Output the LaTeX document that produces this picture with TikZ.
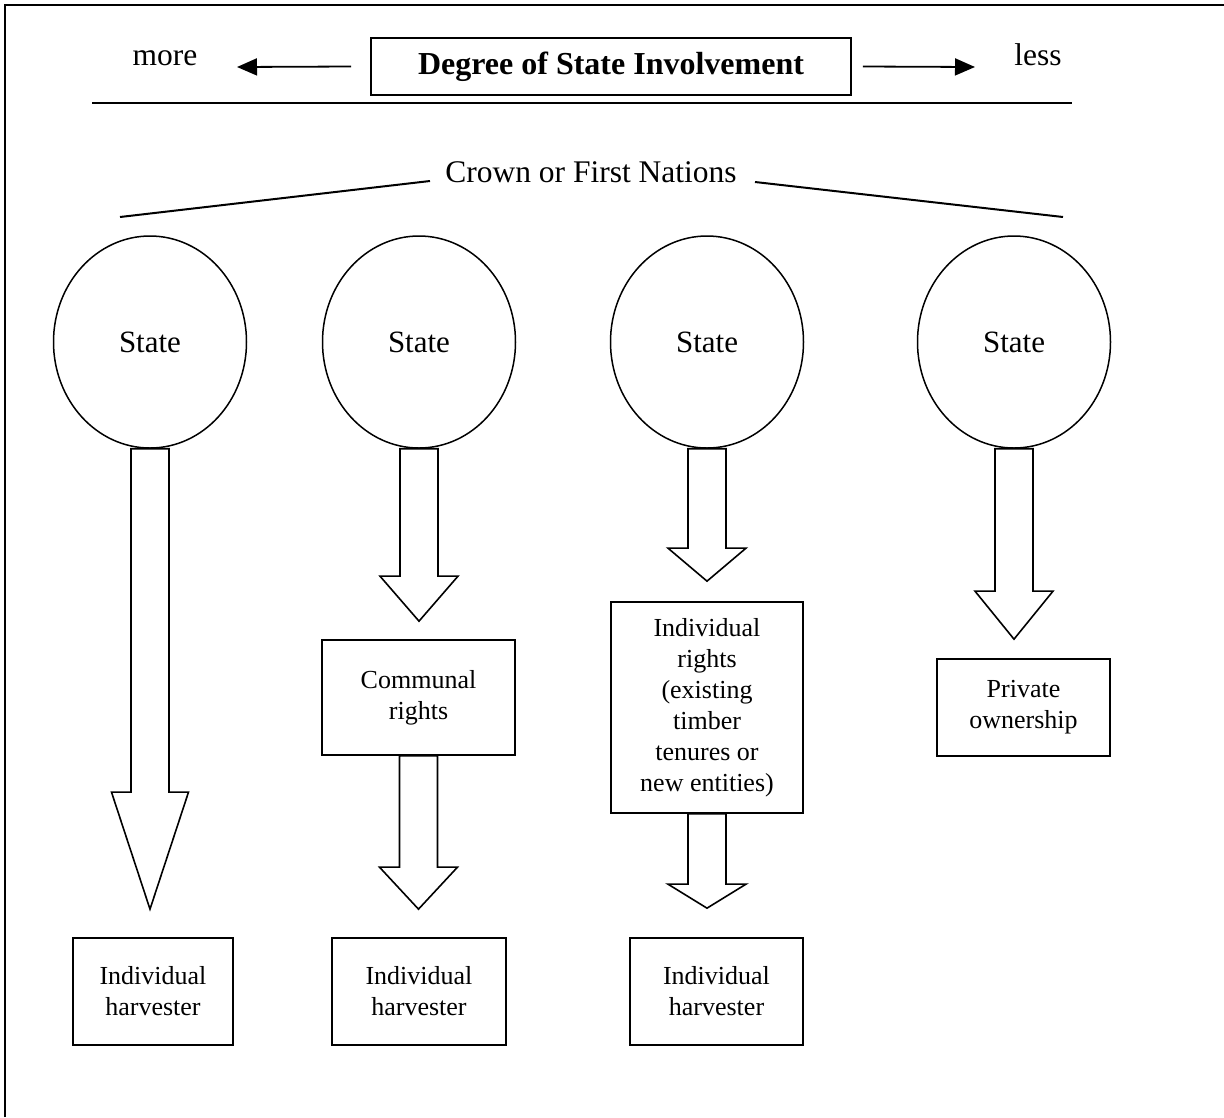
\documentclass[tikz,border=0pt]{standalone}
\usepackage{fontspec}
\setmainfont{Liberation Serif}
\usetikzlibrary{shapes.geometric,arrows.meta,calc}
\newcommand\BlkArr[5]{\draw[blkline] let \p1=#1, \p2=#2 in
  (\x1-#4,\y1) -- (\x1-#4,\y2+#3) -- (\x1-#5,\y2+#3) -- (\x1,\y2) --
  (\x1+#5,\y2+#3) -- (\x1+#4,\y2+#3) -- (\x1+#4,\y1) -- cycle;}
\begin{document}
\begin{tikzpicture}[x=1pt,y=-1pt,line join=miter,
  rbox/.style={draw,line width=1.7pt,rectangle,inner sep=0pt,align=center,
    font=\fontsize{26}{31}\selectfont},
  statec/.style={draw,line width=1.5pt,ellipse,minimum width=193pt,
    minimum height=212pt,inner sep=0pt,font=\fontsize{31}{36}\selectfont},
  blkline/.style={draw,line width=1.6pt},
  ruleline/.style={line width=2pt},
  toparrow/.style={line width=1.8pt,-{Triangle[length=20pt,width=17pt]}},
  bigtext/.style={font=\fontsize{31.5}{38}\selectfont}]
\useasboundingbox (0,0) rectangle (1224,1117);
% frame
\draw[ruleline] (5,1117) -- (5,5) -- (1224,5);
% header
\node[rbox,minimum width=480pt,minimum height=57pt,
  font=\fontsize{32}{38}\selectfont\bfseries] (t) at (611,66.5) {Degree of State Involvement};
\node[bigtext,anchor=base] (more) at (165,65) {more};
\node[bigtext,anchor=base] (less) at (1038,65) {less};
\coordinate (lt) at (237,67);
\coordinate (rt) at (975,67);
\draw[toparrow] ([xshift=-19pt]t.west) -- (lt);
\draw[toparrow] ([xshift=11pt]t.east) -- (rt);
\coordinate (ra) at (92,103);
\coordinate (rb) at (1072,103);
\draw[ruleline] (ra) -- (rb);
% crown
\node[bigtext] (cr) at (591,172) {Crown or First Nations};
\coordinate (cl1) at (430,181);
\coordinate (cl2) at (120,217);
\coordinate (cr1) at (755,182);
\coordinate (cr2) at (1063,217);
\draw[ruleline] (cl1) -- (cl2);
\draw[ruleline] (cr1) -- (cr2);
% states
\node[statec] (s1) at (150,342) {State};
\node[statec] (s2) at (419,342) {State};
\node[statec] (s3) at (707,342) {State};
\node[statec] (s4) at (1014,342) {State};
% boxes
\node[rbox,minimum width=193pt,minimum height=115pt] (c2) at (418.5,697.5) {Communal\\rights};
\node[rbox,minimum width=192pt,minimum height=211pt] (r3) at (707,707.5)
  {Individual\\rights\\(existing\\timber\\tenures or\\new entities)};
\node[rbox,minimum width=173pt,minimum height=97pt] (p4) at (1023.5,707.5) {Private\\ownership};
\node[rbox,minimum width=160pt,minimum height=107pt] (h1) at (153,991.5) {Individual\\harvester};
\node[rbox,minimum width=174pt,minimum height=107pt] (h2) at (419,991.5) {Individual\\harvester};
\node[rbox,minimum width=173pt,minimum height=107pt] (h3) at (716.5,991.5) {Individual\\harvester};
% block arrows
\BlkArr{(s1.south)}{([yshift=28pt]h1.north)}{117pt}{19pt}{38.5pt}
\BlkArr{(s2.south)}{([yshift=18pt]c2.north)}{45pt}{19pt}{39pt}
\BlkArr{(c2.south)}{([yshift=28pt]h2.north)}{42pt}{19pt}{39pt}
\BlkArr{(s3.south)}{([yshift=20pt]r3.north)}{33pt}{19pt}{39pt}
\BlkArr{(r3.south)}{([yshift=29pt]h3.north)}{24pt}{19pt}{39pt}
\BlkArr{(s4.south)}{([yshift=19pt]p4.north)}{48pt}{19pt}{39pt}
\end{tikzpicture}
\end{document}
